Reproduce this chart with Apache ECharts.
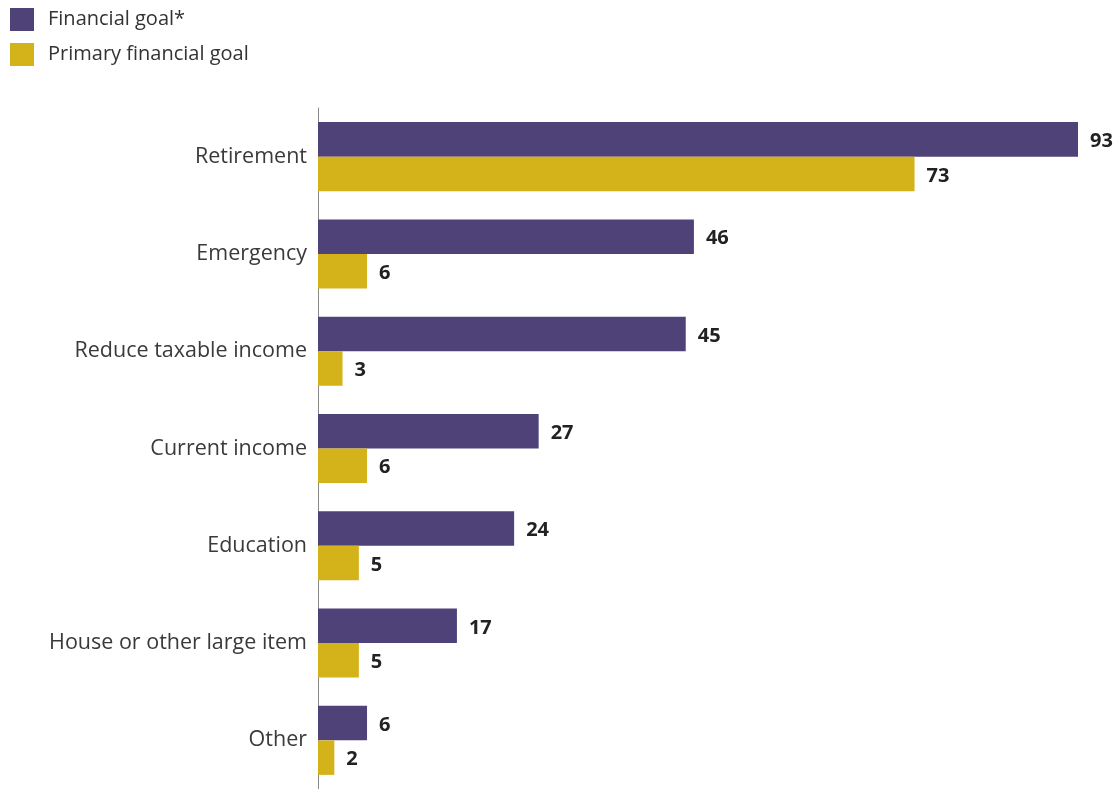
<!DOCTYPE html>
<html>
<head>
<meta charset="utf-8">
<style>html,body{margin:0;padding:0;background:#fff}#c{width:1118px;height:789px}</style>
<script src="https://cdn.jsdelivr.net/npm/echarts@6/dist/echarts.min.js"></script>
</head>
<body>
<div id="c"></div>
<script>
const categories = ["Retirement", "Emergency", "Reduce taxable income", "Current income", "Education", "House or other large item", "Other"];
const financialGoal = [93, 46, 45, 27, 24, 17, 6];
const primaryGoal = [73, 6, 3, 6, 5, 5, 2];
const seriesNames = ["Financial goal*", "Primary financial goal"];

const chart = echarts.init(document.getElementById('c'));
const labelStyle = {show: true, position: 'right', distance: 12, offset: [0, 2], fontFamily: 'Open Sans', fontWeight: 'bold', fontSize: 20, color: '#222'};
chart.setOption({
  animation: false,
  textStyle: {fontFamily: 'Open Sans'},
  legend: {
    orient: 'vertical', left: 10, top: 8, padding: 0, itemWidth: 24, itemHeight: 23, itemGap: 12,
    icon: 'rect',
    textStyle: {fontSize: 20, color: '#333', fontFamily: 'Open Sans', padding: [0, 0, 0, 9]},
    data: seriesNames
  },
  grid: {left: 318, right: 40, top: 108, bottom: 0, containLabel: false},
  xAxis: {type: 'value', min: 0, max: 93, show: false},
  yAxis: {
    type: 'category', data: categories, inverse: true,
    axisLine: {show: true, lineStyle: {color: '#8a8a8a', width: 1}},
    axisTick: {show: false},
    axisLabel: {fontSize: 21.5, color: '#3a3a3a', margin: 11, fontFamily: 'Open Sans', padding: [4, 0, 0, 0]}
  },
  series: [
    {name: seriesNames[0], type: 'bar', data: financialGoal, barGap: '0%', barCategoryGap: '29%',
     itemStyle: {color: '#4F4278'}, label: labelStyle},
    {name: seriesNames[1], type: 'bar', data: primaryGoal, barGap: '0%', barCategoryGap: '29%',
     itemStyle: {color: '#D4B21A'}, label: labelStyle}
  ]
});
</script>
</body>
</html>
